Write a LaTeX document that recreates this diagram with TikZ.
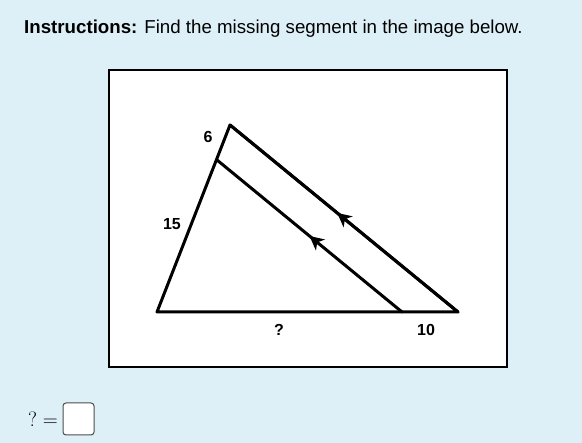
\documentclass[tikz,border=0pt]{standalone}
\usepackage{fontspec}
\setsansfont{Liberation Sans}
\usetikzlibrary{arrows.meta,decorations.markings}
\definecolor{pagebg}{HTML}{DEF0F7}
\tikzset{
  seg/.style={line width=3pt, line cap=round, line join=round},
  par mark/.style={postaction={decorate},
    decoration={markings, mark=at position #1 with {\arrow{Stealth[length=14pt,width=14pt,inset=4pt]}}}},
  lbl/.style={font=\sffamily\bfseries\fontsize{16}{16}\selectfont, inner sep=0pt}
}
\begin{document}
\begin{tikzpicture}[x=1pt,y=-1pt]
\fill[pagebg] (0,0) rectangle (582,443);
\useasboundingbox (0,0) rectangle (582,443);
% heading
\node[anchor=west, inner sep=0pt, font=\sffamily\fontsize{18.7}{19}\selectfont] (instr) at (24,29)
  {\textbf{Instructions:} Find the missing segment in the image below.};
% picture frame
\draw[fill=white, line width=2pt] (109,70) rectangle (507,367);
% triangle
\coordinate (apex) at (230,125);
\coordinate (bl) at (157,312);
\coordinate (br) at (458,312);
\coordinate (cut) at (217,160);
\coordinate (foot) at (402,312);
\draw[seg] (apex) -- (bl) -- (br) -- cycle;
\draw[seg, par mark=0.53] (br) -- (apex);
\draw[seg, par mark=0.5] (foot) -- (cut);
% labels
\node[lbl] (six) at (208,137) {6};
\node[lbl] (fifteen) at (172,224) {15};
\node[lbl] (unk) at (279,330) {?};
\node[lbl] (ten) at (426,330) {10};
% answer
\node[anchor=east, inner sep=0pt, font=\fontsize{20}{20}\selectfont] (ans) at (58,419) {$?=$};
\draw[fill=white, draw=black!70, line width=1pt, rounded corners=3pt] (63,403) rectangle (94,435);
\end{tikzpicture}
\end{document}
